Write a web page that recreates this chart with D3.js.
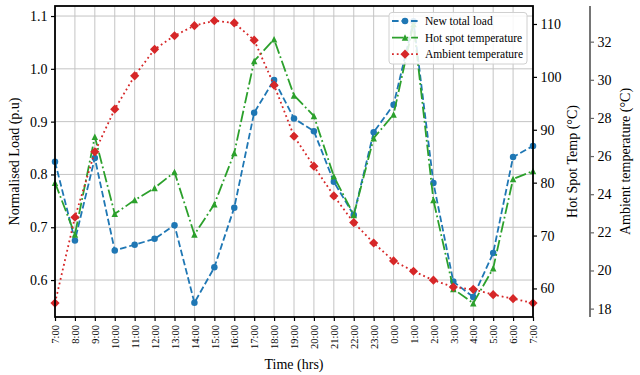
<!DOCTYPE html>
<html>
<head>
<meta charset="utf-8">
<script src="https://cdn.jsdelivr.net/npm/d3@7"></script>
<style>
  html, body { margin: 0; padding: 0; background: #fff; }
  svg { display: block; }
  text { font-family: "Liberation Serif", "DejaVu Serif", serif; fill: #000; }
</style>
</head>
<body>
<svg id="chart" width="640" height="375"></svg>
<script>
// ---- data ----
const times = ["7:00","8:00","9:00","10:00","11:00","12:00","13:00","14:00","15:00","16:00",
  "17:00","18:00","19:00","20:00","21:00","22:00","23:00","0:00","1:00","2:00","3:00",
  "4:00","5:00","6:00","7:00"];
const newTotalLoad = [0.824,0.675,0.831,0.656,0.667,0.678,0.704,0.557,0.624,0.737,
  0.917,0.979,0.906,0.882,0.786,0.723,0.880,0.932,1.09,0.784,0.597,
  0.568,0.651,0.833,0.854];
const hotSpotTemp = [80.0,70.2,88.7,74.1,76.7,79.0,82.0,70.2,75.9,85.6,
  103.0,107.1,96.5,92.6,81.2,73.9,88.4,92.9,110.0,76.7,59.9,
  57.2,63.8,80.7,82.2];
const ambientTemp = [18.29,22.79,26.22,28.46,30.21,31.60,32.31,32.84,33.10,32.98,
  32.08,29.72,27.04,25.47,23.91,22.51,21.44,20.50,19.96,19.49,19.13,
  19.01,18.73,18.52,18.29];
const loadTicks = [0.6,0.7,0.8,0.9,1.0,1.1];
const hotTicks = [60,70,80,90,100,110];
const ambTicks = [18,20,22,24,26,28,30,32];
const seriesNames = ["New total load","Hot spot temperature","Ambient temperature"];

// ---- layout ----
const L = 55, R = 533, T = 6, B = 317, R2 = 590;
const svg = d3.select("#chart");
const colors = ["#1f77b4","#2ca02c","#d62728"];

const x = d3.scaleLinear().domain([0, times.length - 1]).range([L, R]);
const y1 = d3.scaleLinear().domain([0.530, 1.119]).range([B, T]);
const y2 = d3.scaleLinear().domain([54.6, 113.4]).range([B, T]);
const y3 = d3.scaleLinear().domain([17.56, 33.87]).range([B, T]);

// grid
const grid = svg.append("g");
grid.selectAll("line.v").data(d3.range(times.length)).join("line")
  .attr("x1", d => x(d)).attr("x2", d => x(d)).attr("y1", T).attr("y2", B)
  .attr("stroke", "#c4c4c4").attr("stroke-width", 1);
grid.selectAll("line.h").data(loadTicks).join("line")
  .attr("x1", L).attr("x2", R).attr("y1", d => y1(d)).attr("y2", d => y1(d))
  .attr("stroke", "#c4c4c4").attr("stroke-width", 1);

// markers
const s = 6.5;
function markerPath(type) {
  const h = s / 2;
  if (type === "circle") return d3.symbol(d3.symbolCircle, Math.PI * h * h)();
  if (type === "tri") return `M0,${-h}L${h},${h}L${-h},${h}Z`;
  const d = s / Math.SQRT2;
  return `M0,${-d}L${d},0L0,${d}L${-d},0Z`;
}

const plot = svg.append("g");
function drawSeries(vals, yScale, color, dash, mtype) {
  const line = d3.line().x((d, i) => x(i)).y(d => yScale(d));
  plot.append("path").datum(vals).attr("d", line)
    .attr("fill", "none").attr("stroke", color).attr("stroke-width", 1.8)
    .attr("stroke-dasharray", dash);
  plot.append("g").selectAll("path").data(vals).join("path")
    .attr("d", markerPath(mtype))
    .attr("transform", (d, i) => `translate(${x(i)},${yScale(d)})`)
    .attr("fill", color);
}
const dashes = ["6.6,2.9", "11.5,2.9,1.8,2.9", "1.8,3"];
const mtypes = ["circle", "tri", "diamond"];
drawSeries(newTotalLoad, y1, colors[0], dashes[0], mtypes[0]);
drawSeries(hotSpotTemp, y2, colors[1], dashes[1], mtypes[1]);
drawSeries(ambientTemp, y3, colors[2], dashes[2], mtypes[2]);

// axes
function styleAxis(g, fs, color) {
  g.select(".domain").remove();
  g.selectAll(".tick line").attr("stroke", color || "#000").attr("stroke-width", 1.2);
  g.selectAll(".tick text").style("font-family", "Liberation Serif, serif")
    .style("font-size", fs + "px").attr("fill", "#000");
}
const xAxis = svg.append("g").attr("transform", `translate(0,${B})`)
  .call(d3.axisBottom(x).tickValues(d3.range(times.length))
    .tickFormat(i => times[i]).tickSize(4).tickPadding(3));
styleAxis(xAxis, 10.5);
xAxis.selectAll(".tick text")
  .attr("text-anchor", "end").attr("y", 0).attr("dy", "0.35em")
  .attr("transform", "translate(0,8) rotate(-90)");

const yAxis1 = svg.append("g").attr("transform", `translate(${L},0)`)
  .call(d3.axisLeft(y1).tickValues(loadTicks).tickFormat(d3.format(".1f")).tickSize(4).tickPadding(3.5));
styleAxis(yAxis1, 14);
const yAxis2 = svg.append("g").attr("transform", `translate(${R},0)`)
  .call(d3.axisRight(y2).tickValues(hotTicks).tickSize(4).tickPadding(3.5));
styleAxis(yAxis2, 14);
const yAxis3 = svg.append("g").attr("transform", `translate(${R2},0)`)
  .call(d3.axisRight(y3).tickValues(ambTicks).tickSize(4).tickPadding(3.5));
styleAxis(yAxis3, 14, "#666");
svg.append("line").attr("x1", R2).attr("x2", R2).attr("y1", T).attr("y2", B)
  .attr("stroke", "#666").attr("stroke-width", 1.8);

// frame
svg.append("rect").attr("x", L).attr("y", T).attr("width", R - L).attr("height", B - T)
  .attr("fill", "none").attr("stroke", "#000").attr("stroke-width", 1.8);

// axis titles
svg.append("text").attr("transform", `translate(19,${(T + B) / 2}) rotate(-90)`)
  .attr("text-anchor", "middle").style("font-size", "14px").text("Normalised Load (p.u)");
svg.append("text").attr("transform", `translate(577,${(T + B) / 2}) rotate(-90)`)
  .attr("text-anchor", "middle").style("font-size", "14px").text("Hot Spot Temp (°C)");
svg.append("text").attr("transform", `translate(630,${(T + B) / 2}) rotate(-90)`)
  .attr("text-anchor", "middle").style("font-size", "14px").text("Ambient temperature (°C)");
svg.append("text").attr("x", (L + R) / 2).attr("y", 369)
  .attr("text-anchor", "middle").style("font-size", "14px").text("Time (hrs)");

// legend
const lg = svg.append("g");
lg.append("rect").attr("x", 389).attr("y", 12.5).attr("width", 138).attr("height", 51.5)
  .attr("rx", 3).attr("fill", "#fff").attr("fill-opacity", 0.85)
  .attr("stroke", "#d0d0d0").attr("stroke-width", 1);
seriesNames.forEach((name, i) => {
  const yy = 21 + i * 16.6;
  lg.append("line").attr("x1", 392).attr("x2", 418).attr("y1", yy).attr("y2", yy)
    .attr("stroke", colors[i]).attr("stroke-width", 1.8).attr("stroke-dasharray", dashes[i]);
  lg.append("path").attr("d", markerPath(mtypes[i]))
    .attr("transform", `translate(405,${yy})`).attr("fill", colors[i]);
  lg.append("text").attr("x", 425).attr("y", yy).attr("dy", "0.35em")
    .style("font-size", "11.5px").text(name);
});
</script>
</body>
</html>
